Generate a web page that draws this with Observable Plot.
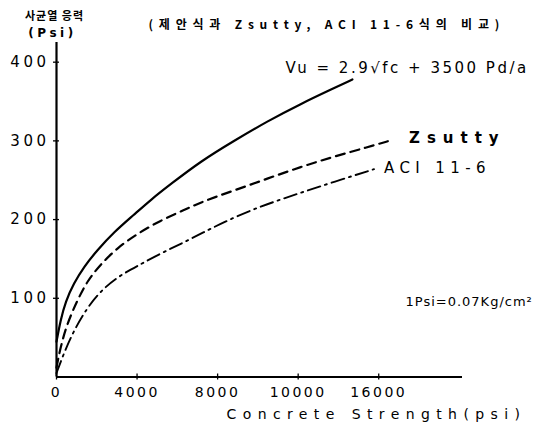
<!DOCTYPE html>
<html>
<head>
<meta charset="utf-8">
<script src="https://cdn.jsdelivr.net/npm/d3@7"></script>
<script src="https://cdn.jsdelivr.net/npm/@observablehq/plot@0.6"></script>
<style>
  html, body { margin: 0; padding: 0; background: #fff; }
  svg { display: block; }
</style>
</head>
<body>
<div id="chart"></div>
<script>
// Concrete strength f'c (psi) and shear cracking stress (psi)
const proposedFc = [0, 200, 450, 860, 1360, 2020, 2850, 3840, 4670, 5670, 7155, 8810, 10470, 12124, 13779, 14693];
const proposedV  = [45, 72, 96, 119, 140, 161, 184, 206, 225, 245, 274, 300, 325, 347, 367, 378];

const zsuttyFc = [0, 200, 530, 1030, 1525, 2186, 3016, 4010, 5168, 6325, 7155, 8810, 10470, 12124, 13779, 15438, 16512];
const zsuttyV  = [12, 38, 68, 97, 122, 143, 164, 182, 199, 212, 222, 237, 252, 267, 280, 292, 300];

const aciFc = [0, 363, 860, 1525, 2186, 3016, 4010, 5168, 6325, 7155, 8810, 10470, 12124, 13779, 15766];
const aciV  = [5, 30, 59, 88, 109, 127, 141, 157, 171, 182, 203, 220, 234, 248, 264];

const xTicks = [0, 4000, 8000, 12000, 16000];
const xTickLabels = ["0", "4000", "8000", "10000", "16000"];
const yTicks = [100, 200, 300, 400];
const yTickLabels = ["100", "200", "300", "400"];

const yTitle1 = "사균열 응력";
const yTitle2 = "(Psi)";
const titleText = "(제안식과 Zsutty, ACI 11-6식의 비교)";
const formulaText = "Vu = 2.9√fc + 3500 Pd/a";
const zsuttyLabel = "Zsutty";
const aciLabel = "ACI 11-6";
const unitNote = "1Psi=0.07Kg/cm²";
const xTitle = "Concrete Strength(psi)";

const toRows = (xs, ys) => xs.map((x, i) => ({x, y: ys[i]}));
const proposed = toRows(proposedFc, proposedV);
const zsutty = toRows(zsuttyFc, zsuttyV);
const aci = toRows(aciFc, aciV);

const font = "'DejaVu Sans', sans-serif";
const kfont = "'Noto Sans CJK KR', 'DejaVu Sans', sans-serif";

const chart = Plot.plot({
  width: 537,
  height: 432,
  marginLeft: 56,
  marginRight: 75,
  marginTop: 42,
  marginBottom: 55.5,
  style: {fontFamily: font, fontSize: "14px", color: "#000", background: "#fff"},
  x: {domain: [0, 20160]},
  y: {domain: [0, 425]},
  marks: [
    Plot.axisY({
      ticks: yTicks, tickFormat: d => yTickLabels[yTicks.indexOf(d)],
      tickSize: 6, dx: 3, tickPadding: 4, stroke: "#000", strokeWidth: 1.3,
      fontSize: 15, label: null
    }),
    Plot.axisX({
      ticks: xTicks, tickFormat: d => xTickLabels[xTicks.indexOf(d)],
      tickSize: 6, dy: -3, tickPadding: 7, stroke: "#000", strokeWidth: 1.3,
      fontSize: 14, label: null
    }),
    Plot.ruleX([0], {stroke: "#000", strokeWidth: 2.2}),
    Plot.ruleY([0], {stroke: "#000", strokeWidth: 2.2}),
    Plot.line(proposed, {x: "x", y: "y", curve: "basis", stroke: "#000", strokeWidth: 2.2}),
    Plot.line(zsutty, {x: "x", y: "y", curve: "basis", stroke: "#000", strokeWidth: 2.2, strokeDasharray: "9,6"}),
    Plot.line(aci, {x: "x", y: "y", curve: "basis", stroke: "#000", strokeWidth: 1.9, strokeDasharray: "13,5,2,5"}),
    Plot.text([zsutty[zsutty.length - 1]], {
      x: "x", y: "y", text: () => zsuttyLabel, textAnchor: "start", dx: 20, dy: -3,
      fontSize: 15, fontWeight: "bold"
    }),
    Plot.text([aci[aci.length - 1]], {
      x: "x", y: "y", text: () => aciLabel, textAnchor: "start", dx: 10, dy: -1,
      fontSize: 15
    }),
    Plot.text([formulaText], {
      frameAnchor: "top-left", dx: 229, dy: 20, textAnchor: "start", fontSize: 15
    }),
    Plot.text([unitNote], {
      frameAnchor: "top-left", dx: 349, dy: 254, textAnchor: "start", fontSize: 13
    }),
    Plot.text([titleText], {
      frameAnchor: "top-left", dx: 92, dy: -22, textAnchor: "start",
      fontSize: 12, fontWeight: "bold", fontFamily: kfont
    }),
    Plot.text([yTitle1], {
      frameAnchor: "top-left", dx: -2, dy: -30, textAnchor: "middle",
      fontSize: 11, fontWeight: "bold", fontFamily: kfont
    }),
    Plot.text([yTitle2], {
      frameAnchor: "top-left", dx: -4, dy: -14, textAnchor: "middle",
      fontSize: 12, fontWeight: "bold"
    }),
    Plot.text([xTitle], {
      frameAnchor: "bottom-left", dx: 170, dy: 42, textAnchor: "start", fontSize: 14
    })
  ]
});

// letter spacing (the original uses a widely tracked typewriter face)
const spacing = new Map([
  [formulaText, 2.5], [zsuttyLabel, 7], [aciLabel, 5.4], [unitNote, 1],
  [titleText, 5.8], [yTitle1, 1], [yTitle2, 3.5], [xTitle, 6.4]
]);
chart.querySelectorAll("text").forEach(t => {
  const s = spacing.get(t.textContent);
  if (s != null) t.setAttribute("letter-spacing", s);
});
chart.querySelectorAll('g[aria-label="y-axis tick label"] text').forEach(t => t.setAttribute("letter-spacing", 3.5));
chart.querySelectorAll('g[aria-label="x-axis tick label"] text').forEach(t => t.setAttribute("letter-spacing", 2.5));
document.getElementById("chart").appendChild(chart);
</script>
</body>
</html>
